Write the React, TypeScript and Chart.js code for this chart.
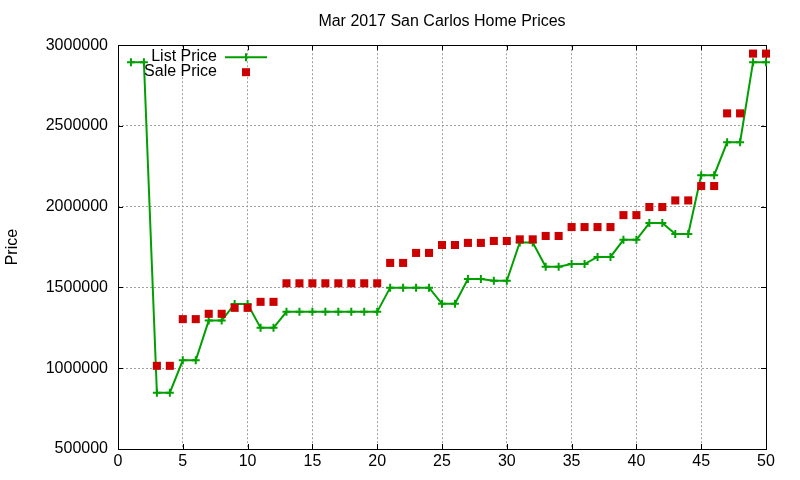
import React, { useEffect, useRef } from 'react';
import { Chart, registerables } from 'chart.js';

Chart.register(...registerables);

const titleText = 'Mar 2017 San Carlos Home Prices';
const yAxisLabel = 'Price';
const seriesNames = ['List Price', 'Sale Price'];

const positions = [
  1, 2, 3, 4, 5, 6, 7, 8, 9, 10,
  11, 12, 13, 14, 15, 16, 17, 18, 19, 20,
  21, 22, 23, 24, 25, 26, 27, 28, 29, 30,
  31, 32, 33, 34, 35, 36, 37, 38, 39, 40,
  41, 42, 43, 44, 45, 46, 47, 48, 49, 50,
];

const listPrice = [
  2895000, 2895000, 849000, 849000, 1049000, 1049000, 1295000, 1295000, 1398000, 1398000,
  1250000, 1250000, 1349000, 1349000, 1349000, 1349000, 1349000, 1349000, 1349000, 1349000,
  1499000, 1499000, 1499000, 1499000, 1399000, 1399000, 1553000, 1553000, 1541000, 1541000,
  1779000, 1779000, 1628000, 1628000, 1645000, 1645000, 1689000, 1689000, 1795000, 1795000,
  1899000, 1899000, 1831000, 1831000, 2195000, 2195000, 2399000, 2399000, 2895000, 2895000,
];

const salePrice = [
  null, null, 1015000, 1015000, 1304000, 1304000, 1337000, 1337000, 1374000, 1374000,
  1411000, 1411000, 1526000, 1526000, 1526000, 1526000, 1526000, 1526000, 1526000, 1526000,
  1652000, 1652000, 1714000, 1714000, 1763000, 1763000, 1776000, 1776000, 1788000, 1788000,
  1798000, 1798000, 1819000, 1819000, 1874000, 1874000, 1874000, 1874000, 1948000, 1948000,
  1998000, 1998000, 2039000, 2039000, 2128000, 2128000, 2578000, 2578000, 2948000, 2948000,
];

const xMin = 0;
const xMax = 50;
const xStep = 5;
const yMin = 500000;
const yMax = 3000000;
const yStep = 500000;

const FONT = '"Liberation Sans", Arial, sans-serif';
const GREEN = '#00a000';
const RED = '#cc0000';

const framePlugin = {
  id: 'gnuFrame',
  beforeDatasetsDraw(chart: any) {
    const { ctx, chartArea } = chart;
    const { left, right, top, bottom } = chartArea;
    const xs = chart.scales.x;
    const ys = chart.scales.y;
    const tl = 5;
    ctx.save();
    ctx.strokeStyle = '#000';
    ctx.lineWidth = 1;
    ctx.setLineDash([]);
    ctx.beginPath();
    xs.ticks.forEach((t: any) => {
      const px = Math.round(xs.getPixelForValue(t.value)) + 0.5;
      ctx.moveTo(px, bottom);
      ctx.lineTo(px, bottom - tl);
      ctx.moveTo(px, top);
      ctx.lineTo(px, top + tl);
    });
    ys.ticks.forEach((t: any) => {
      const py = Math.round(ys.getPixelForValue(t.value)) + 0.5;
      ctx.moveTo(left, py);
      ctx.lineTo(left + tl, py);
      ctx.moveTo(right, py);
      ctx.lineTo(right - tl, py);
    });
    ctx.stroke();
    ctx.strokeRect(Math.round(left) + 0.5, Math.round(top) + 0.5, Math.round(right - left), Math.round(bottom - top));
    ctx.restore();
  },
};

const keyPlugin = {
  id: 'gnuKey',
  afterDraw(chart: any) {
    const { ctx, chartArea } = chart;
    const textRight = chartArea.left + 99;
    const sampleL = chartArea.left + 107;
    const sampleR = chartArea.left + 149;
    const rowY = [chartArea.top + 11, chartArea.top + 26];
    ctx.save();
    ctx.font = `16px ${FONT}`;
    ctx.textAlign = 'right';
    ctx.textBaseline = 'middle';
    ctx.fillStyle = '#000';
    chart.data.datasets.forEach((ds: any, i: number) => {
      const y = rowY[i];
      ctx.fillStyle = '#000';
      ctx.fillText(ds.label, textRight, y);
      const cx = (sampleL + sampleR) / 2;
      if (ds.showLine !== false) {
        ctx.strokeStyle = ds.borderColor;
        ctx.lineWidth = ds.borderWidth;
        ctx.beginPath();
        ctx.moveTo(sampleL, y + 1);
        ctx.lineTo(sampleR, y + 1);
        ctx.moveTo(cx, y + 1 - ds.pointRadius);
        ctx.lineTo(cx, y + 1 + ds.pointRadius);
        ctx.stroke();
      } else {
        ctx.fillStyle = ds.pointBackgroundColor;
        ctx.fillRect(cx - 4, y - 3, 8, 8);
      }
    });
    ctx.restore();
  },
};

export default function App() {
  const canvasRef = useRef<HTMLCanvasElement | null>(null);

  useEffect(() => {
    document.body.style.margin = '0';
    const canvas = canvasRef.current;
    if (!canvas) return;
    const listData = positions.map((x, i) => ({ x, y: listPrice[i] }));
    const saleData = positions.map((x, i) => ({ x, y: salePrice[i] }));
    const font = { family: FONT, size: 16, weight: 'normal' as const };
    const chart = new Chart(canvas, {
      type: 'line',
      data: {
        datasets: [
          {
            label: seriesNames[0],
            data: listData,
            borderColor: GREEN,
            backgroundColor: GREEN,
            borderWidth: 2,
            tension: 0,
            pointStyle: 'cross',
            pointRadius: 4,
            pointBorderWidth: 2,
            pointBorderColor: GREEN,
            pointBackgroundColor: GREEN,
            fill: false,
            clip: false as any,
            order: 2,
          },
          {
            label: seriesNames[1],
            data: saleData,
            showLine: false,
            borderColor: RED,
            backgroundColor: RED,
            borderWidth: 0,
            pointStyle: 'rect',
            pointRadius: 5.7,
            pointBorderWidth: 0,
            pointBackgroundColor: RED,
            pointBorderColor: RED,
            clip: false as any,
            order: 1,
          },
        ] as any,
      },
      options: {
        responsive: false,
        animation: false,
        events: [],
        layout: { padding: { left: 0, right: 34, top: 0, bottom: 0 } },
        plugins: {
          legend: { display: false },
          tooltip: { enabled: false },
          title: {
            display: true,
            text: titleText,
            fullSize: false,
            color: '#000',
            font,
            padding: { top: 12, bottom: 14 },
          },
        },
        scales: {
          x: {
            type: 'linear',
            min: xMin,
            max: xMax,
            ticks: { stepSize: xStep, color: '#000', font, padding: 3, maxRotation: 0 },
            grid: { color: '#a0a0a0', lineWidth: 1, drawTicks: false },
            border: { display: false, dash: [2, 2] },
            afterFit: (s: any) => { s.height = 31; },
          },
          y: {
            type: 'linear',
            min: yMin,
            max: yMax,
            ticks: {
              stepSize: yStep,
              color: '#000',
              font,
              padding: 10,
              callback: (v: any) => String(v),
            },
            grid: { color: '#a0a0a0', lineWidth: 1, drawTicks: false },
            border: { display: false, dash: [2, 2] },
            title: { display: true, text: yAxisLabel, color: '#000', font, padding: { top: 3, bottom: 0 } },
            afterFit: (s: any) => { s.width = 118; },
          },
        },
      } as any,
      plugins: [framePlugin, keyPlugin],
    });
    return () => chart.destroy();
  }, []);

  return <canvas ref={canvasRef} width={800} height={480} style={{ display: 'block' }} />;
}
